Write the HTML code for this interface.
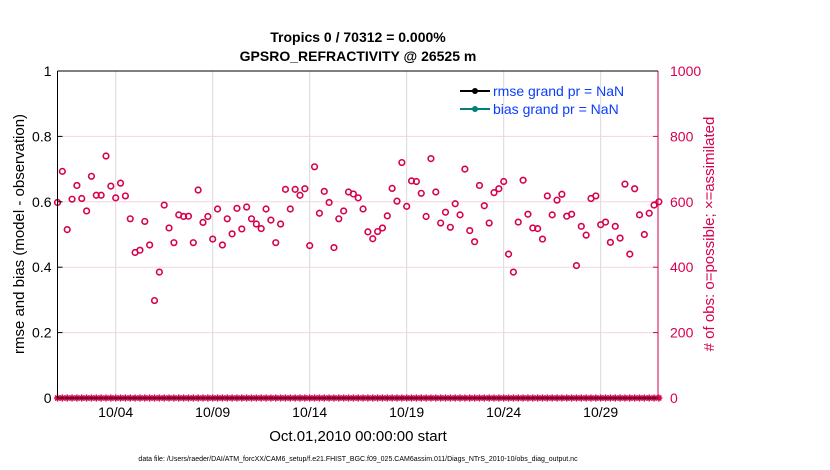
<!DOCTYPE html>
<html><head><meta charset="utf-8"><style>
body{margin:0;background:#fff;}
svg{display:block;font-family:"Liberation Sans",sans-serif;}
</style></head><body>
<svg id="chart" width="830" height="470" viewBox="0 0 830 470" xmlns="http://www.w3.org/2000/svg">
<rect width="830" height="470" fill="#fff"/>
<g id="grid"></g>
<g id="marks"></g>
<g id="axes"></g>
<text x="358" y="42" text-anchor="middle" font-size="14" font-weight="bold">Tropics 0 / 70312 = 0.000%</text>
<text x="358" y="61" text-anchor="middle" font-size="14" font-weight="bold">GPSRO_REFRACTIVITY @ 26525 m</text>
<text x="358" y="441" text-anchor="middle" font-size="15">Oct.01,2010 00:00:00 start</text>
<text transform="translate(24,234) rotate(-90)" text-anchor="middle" font-size="15">rmse and bias (model - observation)</text>
<text transform="translate(714,234) rotate(-90)" text-anchor="middle" font-size="15" fill="#d6004f">#  of obs: o=possible; ×=assimilated</text>
<text x="358" y="461" text-anchor="middle" font-size="7">data file: /Users/raeder/DAI/ATM_forcXX/CAM6_setup/f.e21.FHIST_BGC.f09_025.CAM6assim.011/Diags_NTrS_2010-10/obs_diag_output.nc</text>
<g>
<line x1="460" y1="91" x2="490" y2="91" stroke="#000" stroke-width="2"/><circle cx="475" cy="91" r="3" fill="#000"/>
<text x="493" y="96" font-size="14" fill="#0a3cff">rmse grand pr = NaN</text>
<line x1="460" y1="109" x2="490" y2="109" stroke="#00807a" stroke-width="2"/><circle cx="475" cy="109" r="3" fill="#00807a"/>
<text x="493" y="114" font-size="14" fill="#0a3cff">bias grand pr = NaN</text>
</g>
</svg>
<script>
const possible=[598,693,515,608,650,610,572,678,620,620,740,648,612,657,618,548,445,452,540,468,298,385,590,520,475,560,555,556,475,636,537,555,486,578,468,548,502,580,517,584,548,532,518,578,544,475,532,638,578,638,620,640,466,707,565,632,598,460,548,572,630,624,612,578,508,487,509,520,557,641,602,720,586,664,662,626,555,732,630,535,568,522,594,560,700,512,478,650,588,535,628,640,662,440,385,538,666,562,520,518,486,618,560,605,623,556,562,405,525,498,610,618,530,538,476,525,489,654,440,640,560,500,565,590,600];
const assimilated=possible.map(()=>0);
const xTickLabels=["10/04","10/09","10/14","10/19","10/24","10/29"];
const xTickDays=[3,8,13,18,23,28];
const leftTicks=[0,0.2,0.4,0.6,0.8,1];
const rightTicks=[0,200,400,600,800,1000];
const L=57.5,R=658,T=71,B=398,NS="http://www.w3.org/2000/svg";
const nDays=(R-L)/19.4;
const xDay=d=>L+d*(R-L)/nDays;
const yL=v=>B-v*(B-T);
const yR=v=>B-v/1000*(B-T);
function el(tag,attrs,parent,txt){const e=document.createElementNS(NS,tag);for(const k in attrs)e.setAttribute(k,attrs[k]);if(txt!==undefined)e.textContent=txt;parent.appendChild(e);return e;}
const grid=document.getElementById('grid'),marks=document.getElementById('marks'),axes=document.getElementById('axes');
xTickDays.forEach((d,i)=>{const g=el('line',{x1:xDay(d),x2:xDay(d),y1:T,y2:B,stroke:'#d9d9d9','stroke-width':1},grid);


const t=el('text',{x:xDay(d),y:B+19,'text-anchor':'middle','font-size':14},axes,xTickLabels[i]);

});
rightTicks.forEach(v=>{if(v>0&&v<1000){const g=el('line',{x1:L,x2:R,y1:yR(v),y2:yR(v),stroke:'#f2d5df','stroke-width':1},grid);

}
const t=el('text',{x:R+12,y:yR(v)+5,'font-size':14,fill:'#d6004f'},axes,String(v));


el('line',{x1:R-5,x2:R,y1:yR(v),y2:yR(v),stroke:'#d6004f'},axes);});
leftTicks.forEach(v=>{const t=el('text',{x:L-6,y:yL(v)+5,'text-anchor':'end','font-size':14},axes,String(v));


el('line',{x1:L,x2:L+5,y1:yL(v),y2:yL(v),stroke:'#000'},axes);});
el('line',{x1:L,x2:L,y1:T,y2:B,stroke:'#000'},axes);
el('line',{x1:L,x2:R,y1:B,y2:B,stroke:'#000'},axes);
el('line',{x1:R,x2:R,y1:T,y2:B,stroke:'#d6004f'},axes);
el('line',{x1:L,x2:R,y1:T,y2:T,stroke:'#000'},axes);
possible.forEach((v,i)=>{const x=xDay(i*0.25);
const c=el('circle',{cx:x,cy:yR(v),r:2.8,fill:'none',stroke:'#d6004f','stroke-width':1.6},marks);

});
assimilated.forEach((v,i)=>{const x=xDay(i*0.25),y=yR(v),s=3.5;
const d=`M${x-s},${y}H${x+s}M${x},${y-s}V${y+s}M${x-s*0.7},${y-s*0.7}L${x+s*0.7},${y+s*0.7}M${x-s*0.7},${y+s*0.7}L${x+s*0.7},${y-s*0.7}`;
const a=el('path',{d:d,stroke:'#d6004f','stroke-width':1.5,fill:'none'},marks);

});
</script>
</body></html>
